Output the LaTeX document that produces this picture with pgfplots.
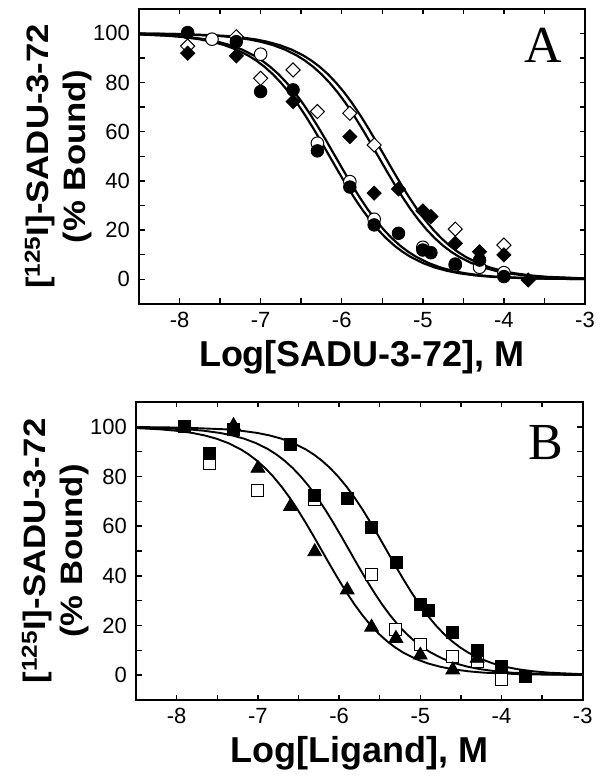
\documentclass[border=0pt]{standalone}
\usepackage{pgfplots}
\pgfplotsset{compat=1.18}
\usepackage{graphicx}
\usepackage{fontspec}
\setmainfont{Liberation Sans}
\newfontfamily\timesfont{Liberation Serif}

\pgfplotsset{
  panel/.style={
    scale only axis, anchor=south west,
    xmin=-8.5, xmax=-3, ymin=-10, ymax=110,
    xtick={-8,-7,-6,-5,-4,-3}, ytick={0,20,40,60,80,100},
    minor x tick num=1, minor y tick num=1,
    tick align=inside,
    major tick length=5.5pt, minor tick length=5.5pt,
    axis line style={line width=2pt},
    tick style={line width=1.4pt, black},
    /pgf/number format/assume math mode=true,
    ticklabel style={font=\fontsize{22}{22}\selectfont},
    xticklabel style={anchor=base, inner sep=0pt, yshift=-23.6pt},
    yticklabel style={anchor=east, inner sep=0pt, xshift=-9pt},
    xlabel style={at={(axis description cs:0.5,0)}, anchor=base, yshift=-62.8pt, font=\bfseries\fontsize{36}{36}\selectfont},
    ylabel style={at={(axis description cs:-0.1805,0.5)}, anchor=center, align=center, font=\bfseries\fontsize{31}{37}\selectfont},
    ylabel={\scalebox{1.12}[1]{[\textsuperscript{125}I]-SADU-3-72}\\\scalebox{1.12}[1]{(\% Bound)}},
  },
  fitA/.style={black, line width=2.2pt, no markers},
  fitB/.style={black, line width=1.9pt, no markers},
  fcirc/.style={black, only marks, mark=*, mark size=6.3pt, mark options={fill=black, draw=black, line width=0.8pt}},
  ocirc/.style={black, only marks, mark=*, mark size=6.3pt, mark options={fill=white, draw=black, line width=1pt}},
  fdiam/.style={black, only marks, mark=square*, mark size=5pt, mark options={rotate=45, fill=black, draw=black, line width=0.8pt}},
  odiam/.style={black, only marks, mark=square*, mark size=5pt, mark options={rotate=45, fill=white, draw=black, line width=1pt}},
  fsq/.style={black, only marks, mark=square*, mark size=6pt, mark options={fill=black, draw=black, line width=0.8pt}},
  osq/.style={black, only marks, mark=square*, mark size=6pt, mark options={fill=white, draw=black, line width=1pt}},
  ftri/.style={black, only marks, mark=triangle*, mark size=8pt, mark options={fill=black, draw=black, line width=0.8pt}},
}

\begin{document}
\begin{tikzpicture}
\path[use as bounding box] (0pt,0pt) rectangle (602pt,778pt);

% ---------------- Panel A ----------------
\begin{axis}[panel, at={(139pt,474.1pt)}, width=446pt, height=295.2pt,
  xlabel={Log[SADU-3-72], M}]
% fitted curves
\addplot[fitA] coordinates {(-8.5,99.55) (-8.15,99.01) (-7.95,98.44) (-7.75,97.55) (-7.60,96.57) (-7.45,95.23) (-7.30,93.39) (-7.15,90.91) (-7.05,88.82) (-6.95,86.32) (-6.85,83.37) (-6.75,79.92) (-6.65,75.97) (-6.55,71.53) (-6.45,66.61) (-6.35,61.31) (-6.25,55.73) (-6.15,50) (-6.05,44.27) (-5.95,38.69) (-5.85,33.39) (-5.75,28.47) (-5.65,24.03) (-5.55,20.08) (-5.45,16.63) (-5.35,13.68) (-5.25,11.18) (-5.15,9.09) (-5.00,6.61) (-4.85,4.77) (-4.70,3.43) (-4.55,2.45) (-4.35,1.56) (-4.15,0.99) (-3.65,0.32) (-3,0.07)};
\addplot[fitA] coordinates {(-8.5,99.62) (-8.08,99.01) (-7.88,98.44) (-7.68,97.55) (-7.53,96.57) (-7.38,95.23) (-7.23,93.39) (-7.08,90.91) (-6.98,88.82) (-6.88,86.32) (-6.78,83.37) (-6.68,79.92) (-6.58,75.97) (-6.48,71.53) (-6.38,66.61) (-6.28,61.31) (-6.18,55.73) (-6.08,50) (-5.98,44.27) (-5.88,38.69) (-5.78,33.39) (-5.68,28.47) (-5.58,24.03) (-5.48,20.08) (-5.38,16.63) (-5.28,13.68) (-5.18,11.18) (-5.08,9.09) (-4.93,6.61) (-4.78,4.77) (-4.63,3.43) (-4.48,2.45) (-4.28,1.56) (-4.08,0.99) (-3.58,0.32) (-3,0.08)};
\addplot[fitA] coordinates {(-8.5,99.89) (-8.05,99.68) (-7.55,99.01) (-7.35,98.44) (-7.15,97.55) (-7.00,96.57) (-6.85,95.23) (-6.70,93.39) (-6.55,90.91) (-6.45,88.82) (-6.35,86.32) (-6.25,83.37) (-6.15,79.92) (-6.05,75.97) (-5.95,71.53) (-5.85,66.61) (-5.75,61.31) (-5.65,55.73) (-5.55,50) (-5.45,44.27) (-5.35,38.69) (-5.25,33.39) (-5.15,28.47) (-5.05,24.03) (-4.95,20.08) (-4.85,16.63) (-4.75,13.68) (-4.65,11.18) (-4.55,9.09) (-4.40,6.61) (-4.25,4.77) (-4.10,3.43) (-3.95,2.45) (-3.75,1.56) (-3.55,0.99) (-3,0.28)};
\addplot[fitA] coordinates {(-8.5,99.91) (-7.97,99.68) (-7.47,99.01) (-7.27,98.44) (-7.07,97.55) (-6.92,96.57) (-6.77,95.23) (-6.62,93.39) (-6.47,90.91) (-6.37,88.82) (-6.27,86.32) (-6.17,83.37) (-6.07,79.92) (-5.97,75.97) (-5.87,71.53) (-5.77,66.61) (-5.67,61.31) (-5.57,55.73) (-5.47,50) (-5.37,44.27) (-5.27,38.69) (-5.17,33.39) (-5.07,28.47) (-4.97,24.03) (-4.87,20.08) (-4.77,16.63) (-4.67,13.68) (-4.57,11.18) (-4.47,9.09) (-4.32,6.61) (-4.17,4.77) (-4.02,3.43) (-3.87,2.45) (-3.67,1.56) (-3.47,0.99) (-3,0.34)};
% open diamonds
\addplot[odiam] coordinates {(-7.9,94.8) (-7.3,98.6) (-7.0,81.7) (-6.6,85.1) (-6.3,68.2) (-5.9,67.5) (-5.6,54.6) (-4.6,20.4) (-4.0,13.9)};
% open circles
\addplot[ocirc] coordinates {(-7.6,97.6) (-7.0,91.5) (-6.3,55.3) (-5.9,39.7) (-5.6,24.4) (-5.0,13.0) (-4.6,5.8) (-4.3,4.9) (-4.0,2.7)};
% filled diamonds
\addplot[fdiam] coordinates {(-7.9,91.9) (-7.3,90.8) (-6.6,72.2) (-5.9,58.0) (-5.6,35.0) (-5.3,36.7) (-5.0,27.8) (-4.9,25.5) (-4.6,14.6) (-4.3,11.2) (-4.0,9.9) (-3.7,-0.3)};
% filled circles
\addplot[fcirc] coordinates {(-7.9,100.3) (-7.3,96.6) (-7.0,76.3) (-6.6,77.0) (-6.3,52.2) (-5.9,37.5) (-5.6,22.1) (-5.3,18.7) (-5.0,11.9) (-4.9,10.8) (-4.6,6.2) (-4.3,7.8) (-4.0,1.1)};
\node[font=\timesfont\fontsize{52}{52}\selectfont, inner sep=0pt] at (axis cs:-3.52,95) {A};
\end{axis}

% ---------------- Panel B ----------------
\begin{axis}[panel, at={(136.1pt,78pt)}, width=446.6pt, height=298pt,
  xlabel={Log[Ligand], M}]
\addplot[fitB] coordinates {(-8.5,99.49) (-8.21,99.01) (-8.01,98.44) (-7.81,97.55) (-7.66,96.57) (-7.51,95.23) (-7.36,93.39) (-7.21,90.91) (-7.11,88.82) (-7.01,86.32) (-6.91,83.37) (-6.81,79.92) (-6.71,75.97) (-6.61,71.53) (-6.51,66.61) (-6.41,61.31) (-6.31,55.73) (-6.21,50) (-6.11,44.27) (-6.01,38.69) (-5.91,33.39) (-5.81,28.47) (-5.71,24.03) (-5.61,20.08) (-5.51,16.63) (-5.41,13.68) (-5.31,11.18) (-5.21,9.09) (-5.06,6.61) (-4.91,4.77) (-4.76,3.43) (-4.61,2.45) (-4.41,1.56) (-4.21,0.99) (-3.71,0.32) (-3,0.06)};
\addplot[fitB] coordinates {(-8.5,99.77) (-8.37,99.68) (-7.87,99.01) (-7.67,98.44) (-7.47,97.55) (-7.32,96.57) (-7.17,95.23) (-7.02,93.39) (-6.87,90.91) (-6.77,88.82) (-6.67,86.32) (-6.57,83.37) (-6.47,79.92) (-6.37,75.97) (-6.27,71.53) (-6.17,66.61) (-6.07,61.31) (-5.97,55.73) (-5.87,50) (-5.77,44.27) (-5.67,38.69) (-5.57,33.39) (-5.47,28.47) (-5.37,24.03) (-5.27,20.08) (-5.17,16.63) (-5.07,13.68) (-4.97,11.18) (-4.87,9.09) (-4.72,6.61) (-4.57,4.77) (-4.42,3.43) (-4.27,2.45) (-4.07,1.56) (-3.87,0.99) (-3.37,0.32) (-3,0.13)};
\addplot[fitB] coordinates {(-8.5,99.92) (-7.91,99.68) (-7.41,99.01) (-7.21,98.44) (-7.01,97.55) (-6.86,96.57) (-6.71,95.23) (-6.56,93.39) (-6.41,90.91) (-6.31,88.82) (-6.21,86.32) (-6.11,83.37) (-6.01,79.92) (-5.91,75.97) (-5.81,71.53) (-5.71,66.61) (-5.61,61.31) (-5.51,55.73) (-5.41,50) (-5.31,44.27) (-5.21,38.69) (-5.11,33.39) (-5.01,28.47) (-4.91,24.03) (-4.81,20.08) (-4.71,16.63) (-4.61,13.68) (-4.51,11.18) (-4.41,9.09) (-4.26,6.61) (-4.11,4.77) (-3.96,3.43) (-3.81,2.45) (-3.61,1.56) (-3.41,0.99) (-3,0.39)};
% open squares
\addplot[osq] coordinates {(-7.6,85.3) (-7.0,74.3) (-6.3,70.6) (-5.6,40.7) (-5.3,18.2) (-5.0,12.4) (-4.6,7.5) (-4.3,5.4) (-4.0,-1.9)};
% triangles
\addplot[ftri] coordinates {(-7.3,100.5) (-7.0,83.3) (-6.6,67.9) (-6.3,49.7) (-5.9,34.3) (-5.6,19.3) (-5.3,14.8) (-5.0,8.1) (-4.6,2.1) (-4.3,6.8)};
% filled squares
\addplot[fsq] coordinates {(-7.9,100) (-7.6,89.1) (-7.3,99) (-6.6,93) (-6.3,72.2) (-5.9,71.2) (-5.6,59.5) (-5.3,45.4) (-5.0,28.3) (-4.9,26.2) (-4.6,17.3) (-4.3,10.1) (-4.0,3.7) (-3.7,-0.3)};
\node[font=\timesfont\fontsize{52}{52}\selectfont, inner sep=0pt] at (axis cs:-3.45,93.7) {B};
\end{axis}
\end{tikzpicture}
\end{document}
